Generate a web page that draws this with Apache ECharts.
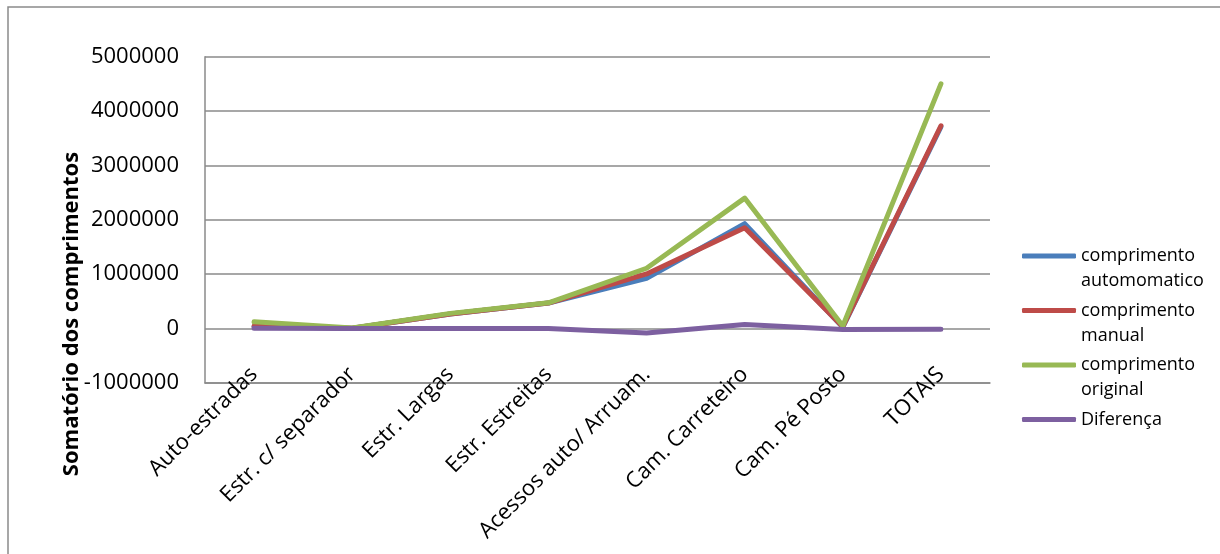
<!DOCTYPE html>
<html>
<head>
<meta charset="utf-8">
<title>Somatório dos comprimentos</title>
<script src="https://cdn.jsdelivr.net/npm/echarts@6/dist/echarts.min.js"></script>
<style>
  html, body { margin: 0; padding: 0; background: #ffffff; }
  #chart { width: 1220px; height: 554px; }
</style>
</head>
<body>
<div id="chart"></div>
<script>
// Categories of road type plus the grand total
const categories = [
  'Auto-estradas',
  'Estr. c/ separador',
  'Estr. Largas',
  'Estr. Estreitas',
  'Acessos auto/ Arruam.',
  'Cam. Carreteiro',
  'Cam. Pé Posto',
  'TOTAIS'
];

// Summed lengths per category
const comprimentoAutomatico = [40000, 5000, 270000, 470000, 925000, 1930000, 25000, 3710000];
const comprimentoManual     = [45000, 5000, 270000, 470000, 1005000, 1855000, 35000, 3730000];
const comprimentoOriginal   = [125000, 10000, 280000, 475000, 1110000, 2400000, 50000, 4500000];
const diferenca             = [5000, 0, 0, 0, -80000, 75000, -15000, -10000];

// Value axis range
const yMin = -1000000;
const yMax = 5000000;
const yStep = 1000000;

const seriesNames = [
  'comprimento automomatico',
  'comprimento manual',
  'comprimento original',
  'Diferença'
];
// Legend entries, split over lines as they are drawn
const legendLines = [
  ['comprimento', 'automomatico'],
  ['comprimento', 'manual'],
  ['comprimento', 'original'],
  ['Diferença']
];
const colors = ['#4A7EBB', '#BE4B48', '#98B954', '#7D60A0'];
const seriesData = [comprimentoAutomatico, comprimentoManual, comprimentoOriginal, diferenca];

const FONT = '"Open Sans", "Noto Sans", sans-serif';
const GRID_COLOR = '#8a8a8a';
const LINE_H = 25;

const chart = echarts.init(document.getElementById('chart'), null, { renderer: 'canvas' });

const option = {
  backgroundColor: '#ffffff',
  animation: false,
  color: colors,
  grid: { left: 205, right: 230, top: 56.7, bottom: 171, containLabel: false },
  legend: {
    orient: 'vertical',
    left: 1022,
    top: 218.5,
    padding: 0,
    itemGap: -20.5,
    itemWidth: 54,
    itemHeight: 5,
    icon: 'roundRect',
    selectedMode: false,
    // the text block is centred on the swatch: an empty leading line keeps
    // the first line level with it, the rest hangs below
    formatter: function (name) {
      const lines = legendLines[seriesNames.indexOf(name)];
      if (lines.length === 1) {
        return '\n' + lines[0] + '\n';
      }
      return '\n' + lines.join('\n');
    },
    textStyle: {
      fontFamily: FONT,
      fontSize: 18,
      lineHeight: LINE_H,
      color: '#000000'
    }
  },
  xAxis: {
    type: 'category',
    data: categories,
    boundaryGap: true,
    axisLine: { onZero: false, lineStyle: { color: GRID_COLOR, width: 1.5 } },
    axisTick: { show: false },
    axisLabel: {
      rotate: 45,
      interval: 0,
      margin: -12,
      fontFamily: FONT,
      fontSize: 22,
      color: '#000000'
    },
    splitLine: { show: false }
  },
  yAxis: {
    type: 'value',
    min: yMin,
    max: yMax,
    interval: yStep,
    axisLine: { show: true, lineStyle: { color: GRID_COLOR, width: 1.5 } },
    axisTick: { show: false },
    axisLabel: {
      margin: 26,
      fontFamily: FONT,
      fontSize: 22,
      color: '#000000',
      formatter: function (v) { return String(v); }
    },
    splitLine: { show: true, lineStyle: { color: GRID_COLOR, width: 1.5 } }
  },
  series: seriesNames.map(function (n, i) {
    return {
      name: n,
      type: 'line',
      data: seriesData[i],
      symbol: 'none',
      smooth: false,
      lineStyle: { width: 5, color: colors[i], cap: 'round', join: 'round' },
      itemStyle: { color: colors[i] },
      z: 2 + i
    };
  }),
  graphic: [
    {
      type: 'rect',
      silent: true,
      shape: { x: 8, y: 7, width: 1400, height: 800 },
      style: { fill: 'none', stroke: GRID_COLOR, lineWidth: 1.5 }
    },
    {
      type: 'text',
      silent: true,
      x: 72,
      y: 314,
      rotation: Math.PI / 2,
      style: {
        text: 'Somatório dos comprimentos',
        fontFamily: FONT,
        fontWeight: 'bold',
        fontSize: 22,
        fill: '#000000',
        align: 'center',
        verticalAlign: 'middle'
      }
    }
  ]
};

chart.setOption(option);
</script>
</body>
</html>
